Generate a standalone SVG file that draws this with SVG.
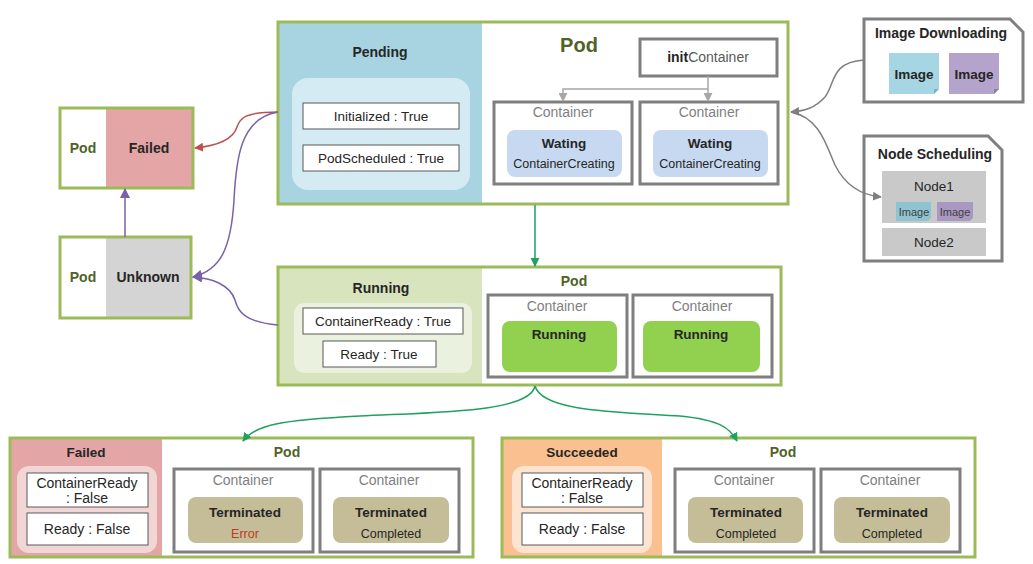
<svg xmlns="http://www.w3.org/2000/svg" width="1033" height="564" viewBox="0 0 1033 564">
<style>
text{font-family:"Liberation Sans","Noto Sans",Arial,sans-serif;fill:#262626}
.b{font-weight:bold}
.pod{fill:none;stroke:#9bbb59;stroke-width:3}
.podt{font-weight:bold;fill:#4f6228}
.cont{fill:#fff;stroke:#7f7f7f;stroke-width:3}
.cl{fill:#7f7f7f;font-size:14px}
.wb{fill:#fff;stroke:#595959;stroke-width:1}
.t13{font-size:13.5px}
.t14{font-size:14px}
.c{text-anchor:middle}
.gb{fill:#fff;stroke:#7f7f7f;stroke-width:3}
.err{fill:#c0392b}
.g5{fill:#595959}
.g4{fill:#404040}
</style>
<defs>
<marker id="ag" viewBox="0 0 10 10" refX="9" refY="5" markerWidth="9" markerHeight="9" markerUnits="userSpaceOnUse" orient="auto"><path d="M0,0 L10,5 L0,10 z" fill="#1fa15f"/></marker>
<marker id="ar" viewBox="0 0 10 10" refX="9" refY="5" markerWidth="9" markerHeight="9" markerUnits="userSpaceOnUse" orient="auto"><path d="M0,0 L10,5 L0,10 z" fill="#c0504d"/></marker>
<marker id="ap" viewBox="0 0 10 10" refX="9" refY="5" markerWidth="10" markerHeight="10" markerUnits="userSpaceOnUse" orient="auto"><path d="M0,0 L10,5 L0,10 z" fill="#7a62a8"/></marker>
<marker id="ay" viewBox="0 0 10 10" refX="9" refY="5" markerWidth="9" markerHeight="9" markerUnits="userSpaceOnUse" orient="auto"><path d="M0,0 L10,5 L0,10 z" fill="#a6a6a6"/></marker>
<marker id="ad" viewBox="0 0 10 10" refX="9" refY="5" markerWidth="9" markerHeight="9" markerUnits="userSpaceOnUse" orient="auto"><path d="M0,0 L10,5 L0,10 z" fill="#7f7f7f"/></marker>
</defs>
<rect width="1033" height="564" fill="#fff"/>

<!-- Pending pod -->
<g id="pending-pod">
<rect x="278" y="22" width="510" height="182" fill="#fff"/>
<rect x="278" y="22" width="204" height="182" fill="#a8d4e2"/>
<rect class="pod" x="278" y="22" width="510" height="182"/>
<text class="b t14 c" x="380" y="57">Pending</text>
<rect x="292" y="78" width="178" height="112" rx="16" fill="#d4ebf3"/>
<rect class="wb" x="303" y="103" width="156" height="26"/>
<text class="t13 c" x="381" y="121">Initialized : True</text>
<rect class="wb" x="303" y="145" width="156" height="26"/>
<text class="t13 c" x="381" y="163">PodScheduled : True</text>
<text class="podt c" x="579" y="52" font-size="20">Pod</text>
<rect class="gb" x="640" y="39" width="137" height="37"/>
<text class="t14 c" x="708" y="62"><tspan class="b">init</tspan><tspan class="g5">Container</tspan></text>
<rect class="cont" x="494" y="102" width="138" height="82"/>
<text class="cl c" x="563" y="117">Container</text>
<rect x="507" y="130" width="115" height="47" rx="8" fill="#c6d9f0"/>
<text class="b t13 c" x="564" y="148">Wating</text>
<text class="c" x="564" y="168" font-size="12.5">ContainerCreating</text>
<rect class="cont" x="640" y="102" width="138" height="82"/>
<text class="cl c" x="709" y="117">Container</text>
<rect x="653" y="130" width="115" height="47" rx="8" fill="#c6d9f0"/>
<text class="b t13 c" x="710" y="148">Wating</text>
<text class="c" x="710" y="168" font-size="12.5">ContainerCreating</text>
</g>

<!-- Image Downloading -->
<g id="image-downloading">
<path class="gb" d="M864,19 L1010,19 L1023,32 L1023,102 L864,102 z"/>
<text class="b c" x="941" y="38" font-size="14">Image Downloading</text>
<path d="M889,53 L939,53 L939,89 L934,94 L889,94 z" fill="#a6d5e3"/>
<path d="M934,94 L939,89 L934,89 z" fill="#7fb3c2"/>
<text class="b t13 c" x="914" y="79">Image</text>
<path d="M949,53 L999,53 L999,89 L994,94 L949,94 z" fill="#b4a4cc"/>
<path d="M994,94 L999,89 L994,89 z" fill="#8e7cac"/>
<text class="b t13 c" x="974" y="79">Image</text>
</g>

<!-- Node Scheduling -->
<g id="node-scheduling">
<path class="gb" d="M864,136 L988,136 L1002,150 L1002,261 L864,261 z"/>
<text class="b c" x="935" y="159" font-size="14">Node Scheduling</text>
<rect x="882" y="171" width="104" height="52" fill="#c9c9c9"/>
<text class="t13 c" x="934" y="191">Node1</text>
<path d="M896,202 L931,202 L931,218 L928,221 L896,221 z" fill="#8ec4d2"/>
<text class="c g4" x="914" y="216" font-size="11">Image</text>
<path d="M937,202 L973,202 L973,218 L970,221 L937,221 z" fill="#a898c2"/>
<text class="c g4" x="955" y="216" font-size="11">Image</text>
<rect x="882" y="228" width="104" height="28" fill="#c9c9c9"/>
<text class="t13 c" x="934" y="247">Node2</text>
</g>

<!-- Pod Failed (left) -->
<g id="pod-failed">
<rect x="60" y="108" width="133" height="80" fill="#fff"/>
<rect x="106" y="108" width="87" height="80" fill="#e3a5a5"/>
<rect class="pod" x="60" y="108" width="133" height="80"/>
<text class="podt t14 c" x="83" y="153">Pod</text>
<text class="b t14 c" x="149" y="153">Failed</text>
</g>

<!-- Pod Unknown -->
<g id="pod-unknown">
<rect x="60" y="237" width="131" height="81" fill="#fff"/>
<rect x="106" y="237" width="85" height="81" fill="#d4d4d4"/>
<rect class="pod" x="60" y="237" width="131" height="81"/>
<text class="podt t14 c" x="83" y="282">Pod</text>
<text class="b t14 c" x="148" y="282">Unknown</text>
</g>

<!-- Running pod -->
<g id="running-pod">
<rect x="278" y="267" width="503" height="118" fill="#fff"/>
<rect x="278" y="267" width="204" height="118" fill="#d7e4bd"/>
<rect class="pod" x="278" y="267" width="503" height="118"/>
<text class="b t14 c" x="381" y="293">Running</text>
<rect x="294" y="303" width="178" height="70" rx="10" fill="#ebf1df"/>
<rect class="wb" x="303" y="308" width="160" height="26"/>
<text class="t13 c" x="383" y="326">ContainerReady : True</text>
<rect class="wb" x="323" y="341" width="113" height="26"/>
<text class="t13 c" x="379" y="359">Ready : True</text>
<text class="podt t14 c" x="574" y="286">Pod</text>
<rect class="cont" x="488" y="295" width="139" height="82"/>
<text class="cl c" x="557" y="311">Container</text>
<rect x="502" y="321" width="115" height="51" rx="8" fill="#92d050"/>
<text class="b t13 c" x="559" y="339">Running</text>
<rect class="cont" x="633" y="295" width="139" height="82"/>
<text class="cl c" x="702" y="311">Container</text>
<rect x="643" y="321" width="117" height="51" rx="8" fill="#92d050"/>
<text class="b t13 c" x="701" y="339">Running</text>
</g>

<!-- Failed pod (bottom) -->
<g id="failed-pod">
<rect x="10" y="438" width="463" height="119" fill="#fff"/>
<rect x="10" y="438" width="152" height="119" fill="#e3a5a5"/>
<rect class="pod" x="10" y="438" width="463" height="119"/>
<text class="b t13 c" x="86" y="457">Failed</text>
<rect x="17" y="466" width="140" height="87" rx="12" fill="#f2d6d6"/>
<rect class="wb" x="27" y="473" width="121" height="34"/>
<text class="t14 c" x="87" y="488">ContainerReady</text>
<text class="t14 c" x="87" y="503">: False</text>
<rect class="wb" x="27" y="513" width="121" height="32"/>
<text class="t14 c" x="87" y="534">Ready : False</text>
<text class="podt t14 c" x="287" y="457">Pod</text>
<rect class="cont" x="174" y="469" width="139" height="83"/>
<text class="cl c" x="243" y="485">Container</text>
<rect x="188" y="497" width="115" height="46" rx="8" fill="#c4bd97"/>
<text class="b t13 c" x="245" y="517">Terminated</text>
<text class="c err" x="245" y="538" font-size="12.5">Error</text>
<rect class="cont" x="320" y="469" width="139" height="83"/>
<text class="cl c" x="389" y="485">Container</text>
<rect x="333" y="497" width="116" height="46" rx="8" fill="#c4bd97"/>
<text class="b t13 c" x="391" y="517">Terminated</text>
<text class="c" x="391" y="538" font-size="12.5">Completed</text>
</g>

<!-- Succeeded pod -->
<g id="succeeded-pod">
<rect x="502" y="438" width="473" height="119" fill="#fff"/>
<rect x="502" y="438" width="160" height="119" fill="#fac090"/>
<rect class="pod" x="502" y="438" width="473" height="119"/>
<text class="b t13 c" x="582" y="457">Succeeded</text>
<rect x="512" y="466" width="140" height="87" rx="12" fill="#fde4d0"/>
<rect class="wb" x="522" y="473" width="121" height="34"/>
<text class="t14 c" x="582" y="488">ContainerReady</text>
<text class="t14 c" x="582" y="503">: False</text>
<rect class="wb" x="522" y="513" width="121" height="32"/>
<text class="t14 c" x="582" y="534">Ready : False</text>
<text class="podt t14 c" x="783" y="457">Pod</text>
<rect class="cont" x="675" y="469" width="139" height="83"/>
<text class="cl c" x="744" y="485">Container</text>
<rect x="688" y="497" width="115" height="46" rx="8" fill="#c4bd97"/>
<text class="b t13 c" x="746" y="517">Terminated</text>
<text class="c" x="746" y="538" font-size="12.5">Completed</text>
<rect class="cont" x="821" y="469" width="139" height="83"/>
<text class="cl c" x="890" y="485">Container</text>
<rect x="834" y="497" width="116" height="46" rx="8" fill="#c4bd97"/>
<text class="b t13 c" x="892" y="517">Terminated</text>
<text class="c" x="892" y="538" font-size="12.5">Completed</text>
</g>

<!-- Connectors -->
<g id="connectors" fill="none" stroke-width="1.5">
<path d="M708,76 L708,89 L563,89 L563,101" stroke="#a6a6a6" marker-end="url(#ay)"/>
<path d="M708,89 L708,101" stroke="#a6a6a6" marker-end="url(#ay)"/>
<path d="M864,60 C830,62 835,85 825,97 C815,108 805,111 791,112" stroke="#7f7f7f" marker-end="url(#ad)"/>
<path d="M791,112 C820,118 826,145 835,165 C845,185 860,195 881,197" stroke="#7f7f7f" marker-end="url(#ad)"/>
<path d="M535,205 L535,266" stroke="#1fa15f" marker-end="url(#ag)"/>
<path d="M535,386 C530,412 440,412 360,416 C280,420 255,425 243,441" stroke="#1fa15f" marker-end="url(#ag)"/>
<path d="M535,386 C542,412 620,412 680,416 C720,420 730,428 737,441" stroke="#1fa15f" marker-end="url(#ag)"/>
<path d="M278,112 C245,112 240,118 237,127 C233,140 215,146 195,148" stroke="#c0504d" marker-end="url(#ar)"/>
<path d="M278,112 C240,118 236,160 234,200 C231,250 220,270 193,277" stroke="#7a62a8" marker-end="url(#ap)"/>
<path d="M278,325 C245,322 238,312 235,300 C230,285 212,278 193,277" stroke="#7a62a8" marker-end="url(#ap)"/>
<path d="M125,237 L125,189" stroke="#7a62a8" marker-end="url(#ap)"/>
</g>
</svg>
